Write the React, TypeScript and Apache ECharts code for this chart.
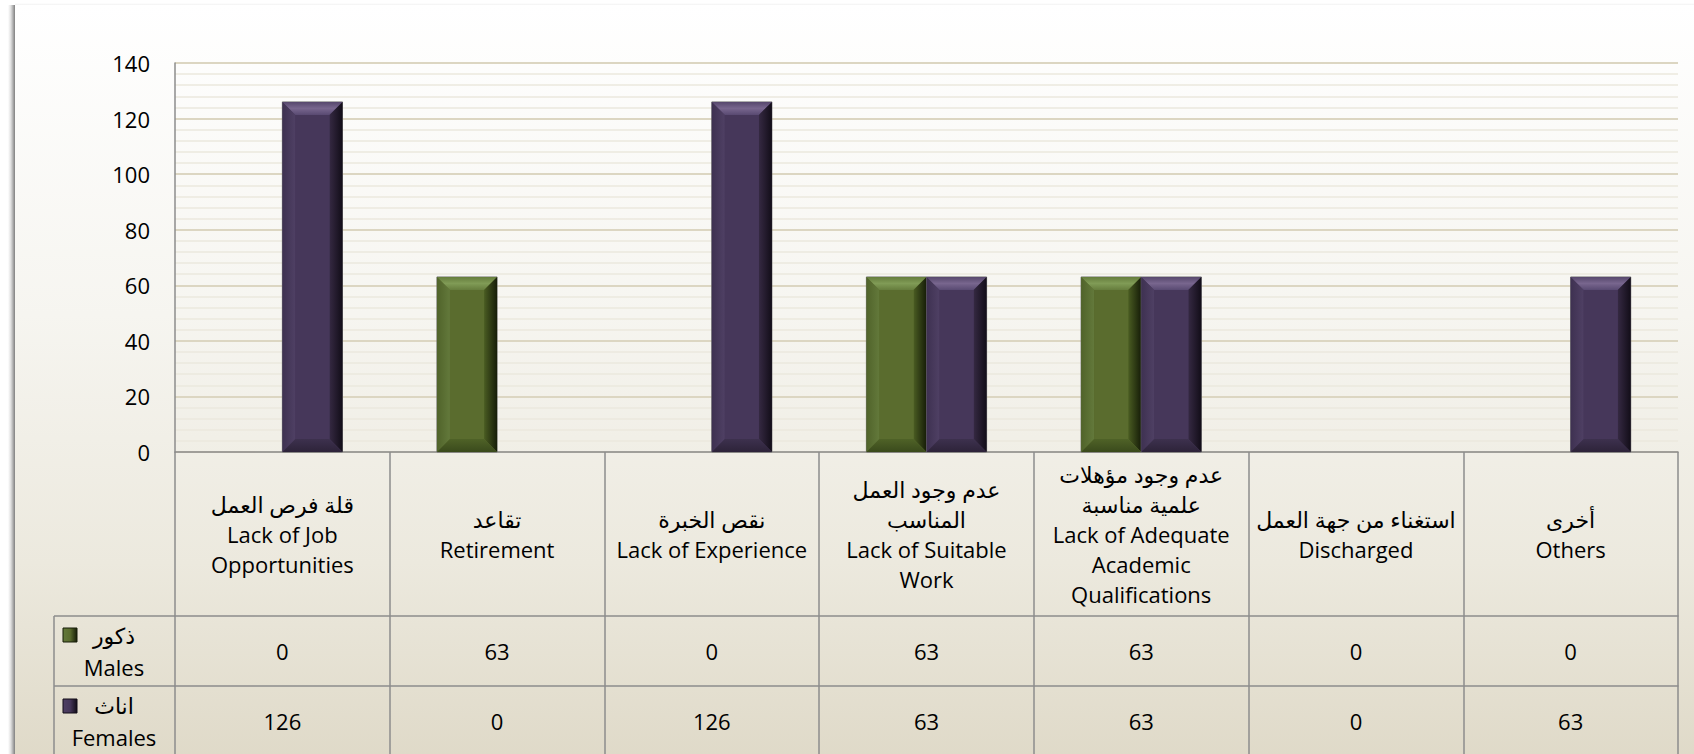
import React, { useEffect, useRef } from "react";
import * as echarts from "echarts";

const categories = [
  "قلة فرص العمل\nLack of Job\nOpportunities",
  "تقاعد\nRetirement",
  "نقص الخبرة\nLack of Experience",
  "عدم وجود العمل\nالمناسب\nLack of Suitable\nWork",
  "عدم وجود مؤهلات\nعلمية مناسبة\nLack of Adequate\nAcademic\nQualifications",
  "استغناء من جهة العمل\nDischarged",
  "أخرى\nOthers",
];
const males = [0, 63, 0, 63, 63, 0, 0];
const females = [126, 0, 126, 63, 63, 0, 63];
const maleLabel = "ذكور\nMales";
const femaleLabel = "اناث\nFemales";
const yTicks = { min: 0, max: 140, interval: 20 };

const W = 1694;
const H = 754;
const GRID_LEFT = 175;
const GRID_RIGHT = 16;
const GRID_TOP = 63;
const AXIS_Y = 452;
const ROW1_Y = 616;
const ROW2_Y = 686;
const LEGEND_LEFT = 54;
const FONT = '"Open Sans", "DejaVu Sans", sans-serif';
const FS = 22;
const LINE = "#8c8c8c";
const BAR_RATIO = 0.28;

type Pal = {
  face: string;
  top: string[];
  left: string[];
  right: string[];
  bottom: string[];
};
const greenPal: Pal = {
  face: "#5a6c2e",
  top: ["#657c3c", "#809b56", "#667d3d"],
  left: ["#50632a", "#63793b"],
  right: ["#4a5c22", "#161d08"],
  bottom: ["#4f6227", "#3a4a1c"],
};
const purplePal: Pal = {
  face: "#46375a",
  top: ["#56476c", "#78668e", "#594a72"],
  left: ["#3e3151", "#4f4064"],
  right: ["#352942", "#120d18"],
  bottom: ["#3d314e", "#2d2339"],
};

function lg(horizontal: boolean, cols: string[]) {
  const stops = cols.map((c, i) => ({ offset: cols.length === 1 ? 0 : i / (cols.length - 1), color: c }));
  return new echarts.graphic.LinearGradient(0, 0, horizontal ? 1 : 0, horizontal ? 0 : 1, stops);
}

function makeRender(side: number, pal: Pal) {
  return (params: any, api: any) => {
    const idx = api.value(0);
    const val = api.value(1);
    if (!val) return { type: "group", children: [] };
    const base = api.coord([idx, 0]);
    const top = api.coord([idx, val]);
    const band = api.size([1, 0])[0];
    const w = band * BAR_RATIO;
    const x0 = side < 0 ? base[0] - w : base[0];
    const y0 = top[1];
    const h = base[1] - top[1];
    const b = Math.min(13, h / 2, w / 2);
    const x1 = x0 + w;
    const y1 = y0 + h;
    return {
      type: "group",
      children: [
        { type: "rect", shape: { x: x0, y: y0, width: w, height: h }, style: { fill: pal.face, stroke: "rgba(110,110,110,0.9)", lineWidth: 1 } },
        { type: "polygon", shape: { points: [[x0, y0], [x1, y0], [x1 - b, y0 + b], [x0 + b, y0 + b]] }, style: { fill: lg(false, pal.top) } },
        { type: "polygon", shape: { points: [[x0, y0], [x0 + b, y0 + b], [x0 + b, y1 - b], [x0, y1]] }, style: { fill: lg(true, pal.left) } },
        { type: "polygon", shape: { points: [[x1, y0], [x1, y1], [x1 - b, y1 - b], [x1 - b, y0 + b]] }, style: { fill: lg(true, pal.right) } },
        { type: "polygon", shape: { points: [[x0, y1], [x0 + b, y1 - b], [x1 - b, y1 - b], [x1, y1]] }, style: { fill: lg(false, pal.bottom) } },
        { type: "rect", shape: { x: x0 + b, y: y0 + b, width: Math.max(0, w - 2 * b), height: Math.max(0, h - 2 * b) }, style: { fill: pal.face } },
      ],
    };
  };
}

function rowAxis(offset: number, values: number[]) {
  return {
    type: "category",
    gridIndex: 0,
    position: "bottom",
    offset,
    data: categories,
    axisLine: { show: true, lineStyle: { color: LINE, width: 1.5 } },
    axisTick: { show: false },
    splitLine: { show: false },
    axisLabel: {
      interval: 0,
      margin: 35,
      verticalAlign: "middle",
      fontSize: FS,
      fontFamily: FONT,
      color: "#000",
      formatter: (_v: string, i: number) => String(values[i]),
    },
  };
}

export default function App() {
  const ref = useRef<HTMLDivElement>(null);
  useEffect(() => {
    if (!ref.current) return;
    const chart = echarts.init(ref.current, null, { renderer: "svg" });
    const legendIcon = (y: number, pal: Pal) => ({
      type: "rect",
      shape: { x: 63, y, width: 14, height: 14 },
      style: { fill: lg(true, [pal.left[1], pal.face, pal.right[1]]), stroke: pal.right[1], lineWidth: 1 },
    });
    chart.setOption({
      animation: false,
      backgroundColor: "transparent",
      grid: { left: GRID_LEFT, right: GRID_RIGHT, top: GRID_TOP, bottom: H - AXIS_Y, containLabel: false },
      xAxis: [
        {
          type: "category",
          data: categories,
          axisLine: { show: true, lineStyle: { color: LINE, width: 1.5 } },
          axisTick: { show: true, interval: 0, length: 320, lineStyle: { color: LINE, width: 1.5 } },
          axisLabel: {
            interval: 0,
            margin: (ROW1_Y - AXIS_Y) / 2,
            verticalAlign: "middle",
            fontSize: FS,
            lineHeight: 30,
            fontFamily: FONT,
            color: "#000",
          },
        },
        rowAxis(ROW1_Y - AXIS_Y, males),
        rowAxis(ROW2_Y - AXIS_Y, females),
      ],
      yAxis: {
        type: "value",
        min: yTicks.min,
        max: yTicks.max,
        interval: yTicks.interval,
        axisLine: { show: true, lineStyle: { color: LINE, width: 1.5 } },
        axisTick: { show: false },
        axisLabel: { margin: 25, fontSize: FS, fontFamily: FONT, color: "#000" },
        splitLine: { show: true, lineStyle: { color: "#dcd6c2", width: 2 } },
        minorTick: { show: false, splitNumber: 5 },
        minorSplitLine: { show: true, lineStyle: { color: "#ebe8de", width: 1.5 } },
      },
      series: [
        {
          name: "Males",
          type: "custom",
          renderItem: makeRender(-1, greenPal),
          encode: { x: 0, y: 1 },
          data: males.map((v, i) => [i, v]),
          z: 3,
        },
        {
          name: "Females",
          type: "custom",
          renderItem: makeRender(1, purplePal),
          encode: { x: 0, y: 1 },
          data: females.map((v, i) => [i, v]),
          z: 3,
        },
      ],
      graphic: [
        { type: "line", shape: { x1: LEGEND_LEFT, y1: ROW1_Y, x2: GRID_LEFT, y2: ROW1_Y }, style: { stroke: LINE, lineWidth: 1.5 } },
        { type: "line", shape: { x1: LEGEND_LEFT, y1: ROW2_Y, x2: GRID_LEFT, y2: ROW2_Y }, style: { stroke: LINE, lineWidth: 1.5 } },
        { type: "line", shape: { x1: LEGEND_LEFT, y1: ROW1_Y, x2: LEGEND_LEFT, y2: H + 10 }, style: { stroke: LINE, lineWidth: 1.5 } },
        legendIcon(628, greenPal),
        legendIcon(699, purplePal),
        {
          type: "text",
          x: 114,
          y: (ROW1_Y + ROW2_Y) / 2,
          style: { text: maleLabel, fontSize: FS, fontFamily: FONT, lineHeight: 32, align: "center", verticalAlign: "middle", fill: "#000" },
        },
        {
          type: "text",
          x: 114,
          y: ROW2_Y + 35,
          style: { text: femaleLabel, fontSize: FS, fontFamily: FONT, lineHeight: 32, align: "center", verticalAlign: "middle", fill: "#000" },
        },
      ],
    });
    return () => chart.dispose();
  }, []);

  return (
    <div style={{ position: "fixed", left: 0, top: 0, width: W, height: H, background: "#ffffff", overflow: "hidden" }}>
      <div
        style={{
          position: "absolute",
          left: 8,
          top: 5,
          width: 7,
          height: H,
          background: "linear-gradient(to right, rgba(0,0,0,0) 0%, rgba(0,0,0,0.12) 40%, rgba(0,0,0,0.5) 100%)",
        }}
      />
      <div
        style={{
          position: "absolute",
          left: 15,
          top: 3,
          width: W,
          height: 2,
          background: "linear-gradient(to bottom, rgba(0,0,0,0) 0%, rgba(0,0,0,0.05) 100%)",
        }}
      />
      <div
        style={{
          position: "absolute",
          left: 15,
          top: 5,
          width: W + 20,
          height: H + 20,
          background: "linear-gradient(to bottom, #ffffff 0%, #f6f5f0 40%, #ece9de 72%, #ded8c6 100%)",
        }}
      />
      <div ref={ref} style={{ position: "absolute", left: 0, top: 0, width: W, height: H }} />
    </div>
  );
}
